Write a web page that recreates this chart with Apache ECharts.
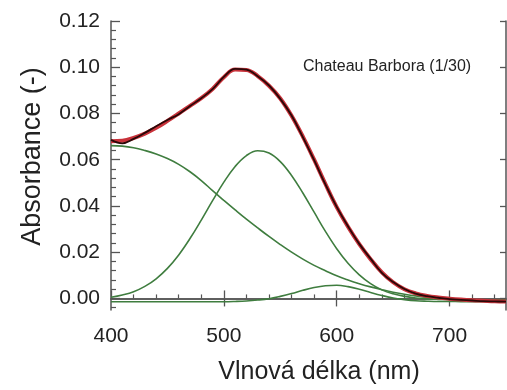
<!DOCTYPE html>
<html>
<head>
<meta charset="utf-8">
<script src="https://cdn.jsdelivr.net/npm/echarts@6/dist/echarts.min.js"></script>
<style>
  html, body { margin: 0; padding: 0; background: #fff; }
  #chart { width: 507px; height: 390px; }
</style>
</head>
<body>
<div id="chart"></div>
<script>
// wavelength grid (nm), every 10 nm
const wavelengths = [400, 410, 420, 430, 440, 450, 460, 470, 480, 490,
  500, 510, 520, 530, 540, 550, 560, 570, 580, 590,
  600, 610, 620, 630, 640, 650, 660, 670, 680, 690,
  700, 710, 720, 730, 740, 750];

// measured spectrum (black)
const measured = [0.0686, 0.0671, 0.0690, 0.0716, 0.0745, 0.0772, 0.0797, 0.0832, 0.0866, 0.0905,
  0.0958, 0.0993, 0.0990, 0.0961, 0.0921, 0.0863, 0.0791, 0.0698, 0.0598, 0.0493,
  0.0396, 0.0312, 0.0236, 0.0172, 0.0111, 0.0071, 0.0041, 0.0021, 0.0010, 0.0003,
  -0.0003, -0.0006, -0.0009, -0.0012, -0.0013, -0.0014];

// fitted sum (red)
const fitted = [0.0680, 0.0682, 0.0694, 0.0713, 0.0738, 0.0768, 0.0800, 0.0833, 0.0866, 0.0906,
  0.0957, 0.0990, 0.0988, 0.0962, 0.0920, 0.0865, 0.0790, 0.0700, 0.0600, 0.0495,
  0.0395, 0.0310, 0.0235, 0.0170, 0.0113, 0.0070, 0.0040, 0.0022, 0.0011, 0.0004,
  -0.0001, -0.0005, -0.0008, -0.0010, -0.0012, -0.0013];

// gaussian components (green)
const band1 = [0.0661, 0.0659, 0.0652, 0.0640, 0.0625, 0.0605, 0.0580, 0.0548, 0.0510, 0.0466,
  0.0424, 0.0383, 0.0343, 0.0305, 0.0268, 0.0233, 0.0200, 0.0170, 0.0143, 0.0120,
  0.0098, 0.0080, 0.0064, 0.0050, 0.0038, 0.0027, 0.0018, 0.0011, 0.0005, 0.0001,
  -0.0002, -0.0004, -0.0005, -0.0006, -0.0007, -0.0007];
const band2 = [0.0005, 0.0015, 0.0029, 0.0052, 0.0085, 0.0130, 0.0188, 0.0259, 0.0339, 0.0423,
  0.0503, 0.0571, 0.0618, 0.0639, 0.0629, 0.0592, 0.0532, 0.0456, 0.0373, 0.0290,
  0.0215, 0.0152, 0.0102, 0.0064, 0.0037, 0.0020, 0.0009, 0.0002, -0.0002, -0.0004,
  -0.0005, -0.0006, -0.0006, -0.0006, -0.0006, -0.0006];
const band3 = [-0.0014, -0.0014, -0.0014, -0.0014, -0.0014, -0.0014, -0.0014, -0.0014, -0.0014, -0.0014,
  -0.0014, -0.0013, -0.0011, -0.0007, -0.0001, 0.0009, 0.0021, 0.0035, 0.0047, 0.0055,
  0.0057, 0.0051, 0.0040, 0.0026, 0.0013, 0.0002, -0.0005, -0.0010, -0.0012, -0.0013,
  -0.0013, -0.0014, -0.0014, -0.0014, -0.0014, -0.0014];

// ticks
const xMajor = [400, 500, 600, 700];
const xMinor = [420, 440, 460, 480, 520, 540, 560, 580, 620, 640, 660, 680, 720, 740];
const xTop = [500, 600, 700];
const yMajor = [0, 0.02, 0.04, 0.06, 0.08, 0.10, 0.12];
const yMinor = [-0.004, 0.004, 0.008, 0.012, 0.016, 0.024, 0.028, 0.032, 0.036,
  0.044, 0.048, 0.052, 0.056, 0.064, 0.068, 0.072, 0.076,
  0.084, 0.088, 0.092, 0.096, 0.104, 0.108, 0.112, 0.116];

const pairs = vals => wavelengths.map((w, i) => [w, vals[i]]);

const axisColor = '#555';
const txt = '#222';
const font = 'Liberation Sans, Arial, sans-serif';

const chart = echarts.init(document.getElementById('chart'));

const xBase = {
  type: 'value', min: 400, max: 750,
  splitLine: { show: false },
  axisLine: { show: true, lineStyle: { color: axisColor, width: 1.5 } }
};
const yBase = {
  type: 'value', min: -0.005, max: 0.12,
  splitLine: { show: false },
  axisLine: { show: true, lineStyle: { color: axisColor, width: 1.5 } }
};

const greenLine = (name, vals) => ({
  name, type: 'line', data: pairs(vals), smooth: 0.4, showSymbol: false,
  lineStyle: { color: '#3f7d3f', width: 1.6 }, z: 2
});

chart.setOption({
  animation: false,
  grid: { left: 111, top: 21, right: 1, bottom: 78 },
  xAxis: [
    Object.assign({}, xBase, {
      position: 'bottom',
      name: 'Vlnová délka (nm)', nameLocation: 'middle', nameGap: 50,
      nameTextStyle: { fontFamily: font, fontSize: 25, color: txt, padding: [0, 0, 0, 21] },
      axisTick: { inside: true, length: 8, customValues: xMajor, lineStyle: { color: axisColor, width: 1.3 } },
      axisLabel: { customValues: xMajor, margin: 16, fontFamily: font, fontSize: 21, color: txt }
    }),
    Object.assign({}, xBase, {
      position: 'bottom',
      axisLine: { show: false },
      axisTick: { inside: true, length: 4, customValues: xMinor, lineStyle: { color: axisColor, width: 1.2 } },
      axisLabel: { show: false }
    }),
    Object.assign({}, xBase, {
      position: 'top',
      axisTick: { inside: true, length: 8, customValues: xTop, lineStyle: { color: axisColor, width: 1.3 } },
      axisLabel: { show: false }
    })
  ],
  yAxis: [
    Object.assign({}, yBase, {
      position: 'left',
      name: 'Absorbance (-)', nameLocation: 'middle', nameGap: 65,
      nameTextStyle: { fontFamily: font, fontSize: 27, color: txt, padding: [0, 0, 0, 18] },
      axisTick: { inside: true, length: 9, customValues: yMajor, lineStyle: { color: axisColor, width: 1.3 } },
      axisLabel: {
        customValues: yMajor, margin: 11, fontFamily: font, fontSize: 21, color: txt,
        formatter: v => v.toFixed(2)
      }
    }),
    Object.assign({}, yBase, {
      position: 'left',
      axisLine: { show: false },
      axisTick: { inside: true, length: 5, customValues: yMinor, lineStyle: { color: axisColor, width: 1.2 } },
      axisLabel: { show: false }
    }),
    Object.assign({}, yBase, {
      position: 'right',
      axisTick: { inside: true, length: 6, customValues: yMajor, lineStyle: { color: axisColor, width: 1.3 } },
      axisLabel: { show: false }
    })
  ],
  graphic: [{
    type: 'text', left: 303, top: 59,
    style: { text: 'Chateau Barbora (1/30)', fontFamily: font, fontSize: 16, fill: txt }
  }],
  series: [
    greenLine('band 1', band1),
    greenLine('band 2', band2),
    greenLine('band 3', band3),
    {
      name: 'fit', type: 'line', data: pairs(fitted), smooth: 0.4, showSymbol: false,
      lineStyle: { color: '#c8323a', width: 4 }, z: 3
    },
    {
      name: 'measured', type: 'line', data: pairs(measured), smooth: 0.4, showSymbol: false,
      lineStyle: { color: '#2a0808', width: 1.8 }, z: 4
    }
  ]
});
</script>
</body>
</html>
